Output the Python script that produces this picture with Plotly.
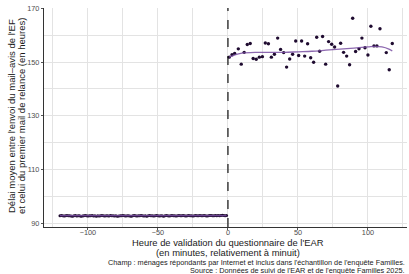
import plotly.graph_objects as go

# ---- data ----
left_x = list(range(-120, 0))
left_y = [92.8, 92.9, 92.8, 92.7, 92.8, 92.9, 92.8, 92.8, 92.7, 92.6,
          92.8, 92.9, 92.7, 92.8, 92.8, 92.6, 92.7, 92.8, 92.9, 92.8,
          92.7, 92.8, 92.8, 92.9, 92.7, 92.8, 92.6, 92.8, 92.7, 92.8,
          92.9, 92.8, 92.7, 92.8, 92.8, 92.7, 92.9, 92.8, 92.8, 92.7,
          92.8, 92.6, 92.7, 92.8, 92.8, 92.9, 92.8, 92.7, 92.8, 92.8,
          92.7, 92.6, 92.8, 92.9, 92.8, 92.7, 92.8, 92.8, 92.9, 92.8,
          92.7, 92.8, 92.6, 92.8, 92.9, 92.8, 92.8, 92.7, 92.8, 92.9,
          92.8, 92.7, 92.8, 92.8, 92.6, 92.8, 92.9, 92.8, 92.7, 92.8,
          92.9, 92.8, 92.8, 92.7, 92.8, 92.9, 92.8, 92.8, 92.9, 92.8,
          92.7, 92.8, 92.9, 92.8, 92.8, 92.7, 92.8, 92.9, 92.8, 92.8,
          92.9, 92.8, 92.8, 92.9, 92.8, 92.7, 92.8, 92.9, 92.9, 92.8,
          92.8, 92.9, 92.8, 92.9, 92.8, 92.9, 93.0, 92.9, 92.8, 92.9]

right_x = [0.9, 2.9, 4.8, 7.4, 9.5, 11.6, 13.8, 15.9, 18.0, 20.2,
           22.4, 24.6, 26.7, 28.9, 31.0, 33.2, 35.5, 37.6, 39.8, 41.9,
           44.1, 46.2, 48.4, 50.5, 52.6, 54.8, 56.9, 59.1, 61.2, 63.4,
           65.5, 67.6, 69.8, 71.9, 74.1, 76.2, 78.4, 80.5, 82.6, 84.8,
           86.9, 89.1, 91.2, 93.6, 95.7, 97.9, 100.0, 102.1, 104.3, 106.4,
           108.6, 113.1, 115.2, 117.4]
right_y = [151.8, 152.7, 153.2, 154.9, 149.2, 153.6, 156.5, 156.9, 151.3, 151.0,
           151.8, 152.0, 157.1, 156.8, 151.8, 152.9, 158.9, 154.7, 153.5, 148.1,
           151.1, 152.9, 157.8, 152.4, 157.8, 152.2, 156.8, 151.6, 149.9, 159.2,
           154.0, 159.5, 149.2, 157.6, 156.6, 155.6, 141.1, 157.0, 153.6, 152.2,
           149.0, 166.3, 153.9, 154.9, 158.9, 155.3, 152.6, 163.3, 156.0, 156.0,
           162.4, 153.5, 147.1, 156.9]

fit_left_x = [-120, -60, -1]
fit_left_y = [92.8, 92.8, 92.85]
fit_right_x = [0.9, 5, 10, 20, 30, 40, 50, 60, 70, 80, 90, 100, 105, 110, 115, 117.4]
fit_right_y = [151.8, 152.7, 153.3, 153.6, 153.6, 153.6, 153.8, 154.0, 154.4, 154.8,
               155.2, 155.6, 155.8, 155.6, 154.8, 154.1]

x_ticks = [-100, -50, 0, 50, 100]
y_ticks = [90, 110, 130, 150, 170]

y_title = ["Délai moyen entre l'envoi du mail–avis de l'EF",
           "et celui du premier mail de relance (en heures)"]
x_title = ["Heure de validation du questionnaire de l'EAR",
           "(en minutes, relativement à minuit)"]
caption = ["Champ : ménages répondants par Internet et inclus dans l'échantillon de l'enquête Familles.",
           "Source : Données de suivi de l'EAR et de l'enquête Familles 2025."]

# ---- figure ----
W, H = 409, 274
L, R, T, B = 44, 2, 8, 47
PW, PH = W - L - R, H - T - B

def px(x):
    return (x - L) / PW

def py(y):
    return (H - B - y) / PH

FONT = "Liberation Sans, Arial, sans-serif"
dot = "#1f0b30"
fitc = "#7a4fa3"

fig = go.Figure()
fig.add_trace(go.Scatter(x=left_x, y=left_y, mode="markers",
                         marker=dict(color=dot, size=3.0), showlegend=False))
fig.add_trace(go.Scatter(x=right_x, y=right_y, mode="markers",
                         marker=dict(color=dot, size=3.4), showlegend=False))
fig.add_trace(go.Scatter(x=fit_left_x, y=fit_left_y, mode="lines",
                         line=dict(color=fitc, width=1.3, shape="spline"),
                         opacity=0.85, showlegend=False))
fig.add_trace(go.Scatter(x=fit_right_x, y=fit_right_y, mode="lines",
                         line=dict(color=fitc, width=1.3, shape="spline"),
                         opacity=0.85, showlegend=False))

fig.add_vline(x=0, line=dict(color="#111111", width=1.2, dash="dash"))

fig.update_layout(
    width=W, height=H,
    margin=dict(l=L, r=R, t=T, b=B, pad=0),
    paper_bgcolor="white", plot_bgcolor="white",
    font=dict(family=FONT, size=7.5, color="#4d4d4d"),
    xaxis=dict(range=[-131.4, 127.9], tickvals=x_ticks,
               ticktext=["\u2212100", "\u221250", "0", "50", "100"],
               showgrid=True, gridcolor="#e3e3e3", gridwidth=1,
               minor=dict(tickvals=[-125, -75, -25, 25, 75, 125], showgrid=True,
                          gridcolor="#e3e3e3", gridwidth=1),
               zeroline=False, showline=True, linecolor="#333333", linewidth=1.2,
               ticks="outside", ticklen=2, tickcolor="#555555", tickwidth=0.8,
               ticklabelstandoff=-4,
               tickfont=dict(size=7.3, color="#4d4d4d")),
    yaxis=dict(range=[88.6, 170.1], tickvals=y_ticks,
               showgrid=True, gridcolor="#e3e3e3", gridwidth=1,
               minor=dict(tickvals=[100, 120, 140, 160], showgrid=True,
                          gridcolor="#e3e3e3", gridwidth=1),
               zeroline=False, showline=True, linecolor="#333333", linewidth=1.2,
               ticks="outside", ticklen=2, tickcolor="#555555", tickwidth=0.8,
               tickfont=dict(size=7.3, color="#4d4d4d")),
)

ann = []
for i, t in enumerate(y_title):
    ann.append(dict(text=t, x=px([11, 21][i]), y=py(116), xref="paper", yref="paper",
                    textangle=-90, showarrow=False, xanchor="center", yanchor="middle",
                    borderpad=0, font=dict(family=FONT, size=9.5, color="#1a1a1a")))
for i, t in enumerate(x_title):
    ann.append(dict(text=t, x=px(228), y=py([242, 252][i]), xref="paper", yref="paper",
                    showarrow=False, xanchor="center", yanchor="middle",
                    borderpad=0, font=dict(family=FONT, size=9.4, color="#1a1a1a")))
for i, t in enumerate(caption):
    ann.append(dict(text=t, x=px(406), y=py([262.2, 270][i]), xref="paper", yref="paper",
                    showarrow=False, xanchor="right", yanchor="middle",
                    borderpad=0, font=dict(family=FONT, size=7.3, color="#1a1a1a")))
fig.update_layout(annotations=ann)

fig.write_html("out.html", config={"displayModeBar": False},
               post_script="document.body.style.margin='0px';document.body.style.padding='0px';")
